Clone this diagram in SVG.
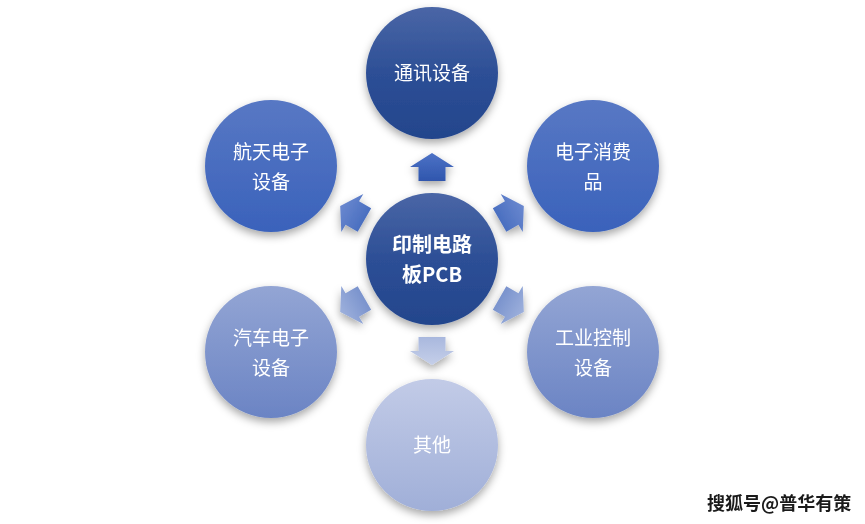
<svg xmlns="http://www.w3.org/2000/svg" width="865" height="524" viewBox="0 0 865 524">
<defs>
  <style>
    .lbl { font-family: "Noto Sans CJK SC", "Noto Sans", sans-serif; font-size: 19px; fill: #ffffff; text-anchor: middle; }
    .bold { font-weight: bold; font-size: 20px; }
    .wm { font-family: "Noto Sans CJK SC", sans-serif; font-size: 18px; font-weight: bold; fill: #1a1a1a; }
  </style>
  <filter id="sh" x="-30%" y="-30%" width="160%" height="170%">
    <feDropShadow dx="0" dy="4" stdDeviation="4" flood-color="#000" flood-opacity="0.35"/>
  </filter>
  <linearGradient id="gDark" x1="0" y1="0" x2="0" y2="1">
    <stop offset="0" stop-color="#4a66a6"/>
    <stop offset="0.5" stop-color="#2d4f96"/>
    <stop offset="1" stop-color="#23458c"/>
  </linearGradient>
  <linearGradient id="gMid" x1="0" y1="0" x2="0" y2="1">
    <stop offset="0" stop-color="#5878c4"/>
    <stop offset="1" stop-color="#3a62bb"/>
  </linearGradient>
  <linearGradient id="gLight" x1="0" y1="0" x2="0" y2="1">
    <stop offset="0" stop-color="#93a5d4"/>
    <stop offset="1" stop-color="#6b84c4"/>
  </linearGradient>
  <linearGradient id="gPale" x1="0" y1="0" x2="0" y2="1">
    <stop offset="0" stop-color="#c2cbe7"/>
    <stop offset="1" stop-color="#a0afd8"/>
  </linearGradient>
  <linearGradient id="aTop" x1="0" y1="0" x2="0" y2="1">
    <stop offset="0" stop-color="#4d72c6"/>
    <stop offset="1" stop-color="#2f56ad"/>
  </linearGradient>
  <linearGradient id="aMid" x1="0" y1="0" x2="0" y2="1">
    <stop offset="0" stop-color="#6a88cf"/>
    <stop offset="1" stop-color="#4a6fc0"/>
  </linearGradient>
  <linearGradient id="aLight" x1="0" y1="0" x2="0" y2="1">
    <stop offset="0" stop-color="#9db0dc"/>
    <stop offset="1" stop-color="#7a93cd"/>
  </linearGradient>
  <linearGradient id="aPale" x1="0" y1="0" x2="0" y2="1">
    <stop offset="0" stop-color="#c5cfe9"/>
    <stop offset="1" stop-color="#a9b8de"/>
  </linearGradient>
  <path id="arr" d="M0,-14 L22,0 L13.5,0 L13.5,14 L-13.5,14 L-13.5,0 L-22,0 Z"/>
</defs>
<rect width="865" height="524" fill="#ffffff"/>

<g id="connectors" filter="url(#sh)">
  <use href="#arr" fill="url(#aTop)" transform="translate(432,167)"/>
  <use href="#arr" fill="url(#aMid)" transform="translate(511.7,213) rotate(60)"/>
  <use href="#arr" fill="url(#aLight)" transform="translate(511.7,305) rotate(120)"/>
  <use href="#arr" fill="url(#aPale)" transform="translate(432,351) rotate(180)"/>
  <use href="#arr" fill="url(#aLight)" transform="translate(352.3,305) rotate(240)"/>
  <use href="#arr" fill="url(#aMid)" transform="translate(352.3,213) rotate(300)"/>
</g>

<g id="center">
  <circle cx="432" cy="259" r="66" fill="url(#gDark)" filter="url(#sh)"/>
  <text class="lbl bold" x="432" y="252">印制电路</text>
  <text class="lbl bold" x="432" y="282">板PCB</text>
</g>
<g id="top">
  <circle cx="432" cy="73" r="66" fill="url(#gDark)" filter="url(#sh)"/>
  <text class="lbl" x="432" y="80">通讯设备</text>
</g>
<g id="topright">
  <circle cx="593" cy="166" r="66" fill="url(#gMid)" filter="url(#sh)"/>
  <text class="lbl" x="593" y="159">电子消费</text>
  <text class="lbl" x="593" y="189">品</text>
</g>
<g id="bottomright">
  <circle cx="593" cy="352" r="66" fill="url(#gLight)" filter="url(#sh)"/>
  <text class="lbl" x="593" y="345">工业控制</text>
  <text class="lbl" x="593" y="375">设备</text>
</g>
<g id="bottom">
  <circle cx="432" cy="445" r="66" fill="url(#gPale)" filter="url(#sh)"/>
  <text class="lbl" x="432" y="452">其他</text>
</g>
<g id="bottomleft">
  <circle cx="271" cy="352" r="66" fill="url(#gLight)" filter="url(#sh)"/>
  <text class="lbl" x="271" y="345">汽车电子</text>
  <text class="lbl" x="271" y="375">设备</text>
</g>
<g id="topleft">
  <circle cx="271" cy="166" r="66" fill="url(#gMid)" filter="url(#sh)"/>
  <text class="lbl" x="271" y="159">航天电子</text>
  <text class="lbl" x="271" y="189">设备</text>
</g>

<text class="wm" x="707" y="510">搜狐号@普华有策</text>
</svg>
